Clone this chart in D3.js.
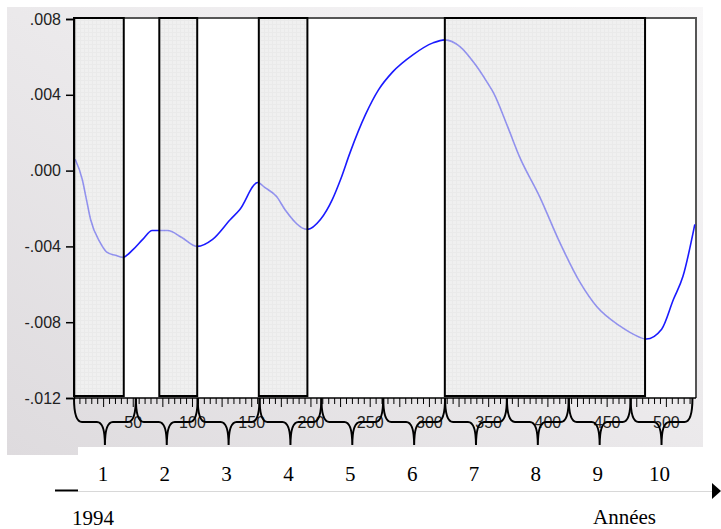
<!DOCTYPE html>
<html>
<head>
<meta charset="utf-8">
<script src="https://cdn.jsdelivr.net/npm/d3@7"></script>
<style>
  body { margin: 0; background: #fff; }
  svg { display: block; }
</style>
</head>
<body>
<div id="chart"></div>
<script>
// weekly series (week index, value)
var weeks  = [1, 7, 10, 14, 22, 28, 35, 41, 50, 58, 66, 79, 91, 104, 117, 132, 140, 155, 161, 171, 178, 197, 208, 218, 225, 233, 246, 257, 269, 286, 303, 313, 326, 337, 349, 354, 366, 376, 393, 410, 427, 441, 461, 472, 483, 496, 506, 514, 524];
var values = [0.0006, -0.00047, -0.00137, -0.00258, -0.00379, -0.00432, -0.00447, -0.00458, -0.00416, -0.00363, -0.00316, -0.00316, -0.00353, -0.004, -0.00363, -0.00258, -0.00205, -0.00063, -0.00089, -0.00137, -0.00205, -0.0031, -0.00258, -0.00153, -0.00047, 0.00095, 0.00295, 0.00426, 0.00521, 0.00611, 0.00674, 0.0069, 0.00653, 0.00574, 0.00463, 0.00411, 0.00232, 0.00074, -0.00137, -0.00379, -0.00589, -0.00716, -0.00821, -0.00863, -0.00889, -0.00837, -0.00679, -0.00558, -0.00284];

// shaded periods (weeks)
var periodStart = [0, 72, 156, 313];
var periodEnd   = [42, 104, 197, 482];

var yTicks = [0.008, 0.004, 0, -0.004, -0.008, -0.012];
var xTicks = [50, 100, 150, 200, 250, 300, 350, 400, 450, 500];
var years = ['1', '2', '3', '4', '5', '6', '7', '8', '9', '10'];
var weeksPerYear = 52.2;

var width = 721, height = 529;
var plot = {l: 74, r: 696, t: 19, b: 398};

var svg = d3.select('#chart').append('svg')
    .attr('width', width)
    .attr('height', height);

var defs = svg.append('defs');

var grad = defs.append('linearGradient')
    .attr('id', 'panel')
    .attr('x1', '100%').attr('y1', '0%')
    .attr('x2', '0%').attr('y2', '100%');
grad.append('stop').attr('offset', '0%').attr('stop-color', '#f8f7f8');
grad.append('stop').attr('offset', '100%').attr('stop-color', '#dedbde');

// fine grid fill of the shaded boxes
var pat = defs.append('pattern')
    .attr('id', 'grid')
    .attr('width', 12).attr('height', 12)
    .attr('patternUnits', 'userSpaceOnUse');
pat.append('rect').attr('width', 12).attr('height', 12).attr('fill', '#e6e6e6');
pat.append('path')
    .attr('d', 'M0,0.5H12M0.5,0V12M0,4.5H12M0,8.5H12M4.5,0V12M8.5,0V12')
    .attr('stroke', '#dcdcdc')
    .attr('stroke-width', 1);

var x = d3.scaleLinear().domain([0, 525]).range([plot.l, plot.r]);
var y = d3.scaleLinear().domain([-0.012, 0.008]).range([plot.b, plot.t]);

// background panel
svg.append('rect')
    .attr('x', 7).attr('y', 7)
    .attr('width', 696).attr('height', 448)
    .attr('fill', 'url(#panel)');

// plot area
svg.append('rect')
    .attr('x', plot.l).attr('y', plot.t - 1)
    .attr('width', plot.r - plot.l).attr('height', plot.b - plot.t + 1)
    .attr('fill', '#fff');

// frame top and right
svg.append('path')
    .attr('d', 'M' + plot.l + ',' + (plot.t - 1) + 'H' + plot.r + 'V' + plot.b)
    .attr('fill', 'none')
    .attr('stroke', '#555')
    .attr('stroke-width', 2);

var line = d3.line()
    .x(function (d, i) { return x(weeks[i]); })
    .y(function (d) { return y(d); })
    .curve(d3.curveMonotoneX);

svg.append('path')
    .datum(values)
    .attr('d', line)
    .attr('fill', 'none')
    .attr('stroke', '#1a1aff')
    .attr('stroke-width', 1.6);

// shaded periods on top of the line
var periods = periodStart.map(function (s, i) { return {s: s, e: periodEnd[i]}; });

svg.selectAll('.period')
    .data(periods)
    .enter().append('rect')
    .attr('class', 'period')
    .attr('x', function (d) { return x(d.s); })
    .attr('y', y(0.008) - 1)
    .attr('width', function (d) { return x(d.e) - x(d.s); })
    .attr('height', y(-0.012) - y(0.008) - 1)
    .attr('fill', 'url(#grid)')
    .attr('fill-opacity', 0.6)
    .attr('stroke', '#000')
    .attr('stroke-width', 2);

// y axis
var yAxis = svg.append('g')
    .attr('transform', 'translate(' + plot.l + ',0)')
    .call(d3.axisLeft(y).tickValues(yTicks).tickSize(8).tickPadding(5)
        .tickFormat(function (d) { return d3.format('.3f')(d).replace('0.', '.').replace('\u2212', '-'); }));
yAxis.select('.domain').attr('stroke', '#000').attr('stroke-width', 1.5);
yAxis.selectAll('.tick line').attr('stroke', '#000').attr('stroke-width', 1.5);
yAxis.selectAll('text')
    .attr('fill', '#222')
    .style('font-family', 'Liberation Sans, Arial, sans-serif')
    .style('font-size', '16px');

// x axis: minor ticks every 5 weeks, labels every 50
var xAxis = svg.append('g')
    .attr('transform', 'translate(0,' + plot.b + ')');
xAxis.append('line')
    .attr('x1', plot.l).attr('x2', plot.r)
    .attr('stroke', '#000').attr('stroke-width', 1.5);
xAxis.selectAll('.minor')
    .data(d3.range(5, 525, 5))
    .enter().append('line')
    .attr('class', 'minor')
    .attr('x1', function (d) { return x(d); })
    .attr('x2', function (d) { return x(d); })
    .attr('y2', function (d) { return d % 25 === 0 ? 9 : 6; })
    .attr('stroke', '#000')
    .attr('stroke-width', 1);
xAxis.selectAll('.lab')
    .data(xTicks)
    .enter().append('text')
    .attr('class', 'lab')
    .attr('x', function (d) { return x(d); })
    .attr('y', 30)
    .attr('text-anchor', 'middle')
    .attr('fill', '#222')
    .style('font-family', 'Liberation Sans, Arial, sans-serif')
    .style('font-size', '16px')
    .text(function (d) { return d; });

// year braces
var braceTop = plot.b, braceMid = 422, braceTip = 445, r = 8;
function brace(x0, x1) {
    var xm = (x0 + x1) / 2;
    return 'M' + x0 + ',' + braceTop +
        'Q' + x0 + ',' + braceMid + ' ' + (x0 + r) + ',' + braceMid +
        'L' + (xm - r) + ',' + braceMid +
        'Q' + xm + ',' + braceMid + ' ' + xm + ',' + braceTip +
        'Q' + xm + ',' + braceMid + ' ' + (xm + r) + ',' + braceMid +
        'L' + (x1 - r) + ',' + braceMid +
        'Q' + x1 + ',' + braceMid + ' ' + x1 + ',' + braceTop;
}

svg.selectAll('.brace')
    .data(years)
    .enter().append('path')
    .attr('class', 'brace')
    .attr('d', function (d, i) { return brace(x(i * weeksPerYear), x((i + 1) * weeksPerYear)); })
    .attr('fill', 'none')
    .attr('stroke', '#000')
    .attr('stroke-width', 2);

// white strip under the panel for the year labels
svg.append('rect')
    .attr('x', 78).attr('y', 447)
    .attr('width', width - 78).attr('height', height - 447)
    .attr('fill', '#fff');

svg.selectAll('.year')
    .data(years)
    .enter().append('text')
    .attr('class', 'year')
    .attr('x', function (d, i) { return x((i + 0.5) * weeksPerYear) - 2; })
    .attr('y', 481)
    .attr('text-anchor', 'middle')
    .style('font-family', 'Liberation Serif, Times New Roman, serif')
    .style('font-size', '21px')
    .text(function (d) { return d; });

// time arrow
svg.append('line')
    .attr('x1', 78).attr('x2', 713)
    .attr('y1', 491.5).attr('y2', 491.5)
    .attr('stroke', '#d8d8d8').attr('stroke-width', 1);
svg.append('path')
    .attr('d', 'M712,483L721,491L712,499Z')
    .attr('fill', '#000');
svg.append('line')
    .attr('x1', 55).attr('x2', 78)
    .attr('y1', 490.5).attr('y2', 490.5)
    .attr('stroke', '#000').attr('stroke-width', 2);

svg.append('text')
    .attr('x', 72).attr('y', 525)
    .style('font-family', 'Liberation Serif, Times New Roman, serif')
    .style('font-size', '21px')
    .text('1994');

svg.append('text')
    .attr('x', 593).attr('y', 524)
    .style('font-family', 'Liberation Serif, Times New Roman, serif')
    .style('font-size', '21px')
    .text('Années');
</script>
</body>
</html>
